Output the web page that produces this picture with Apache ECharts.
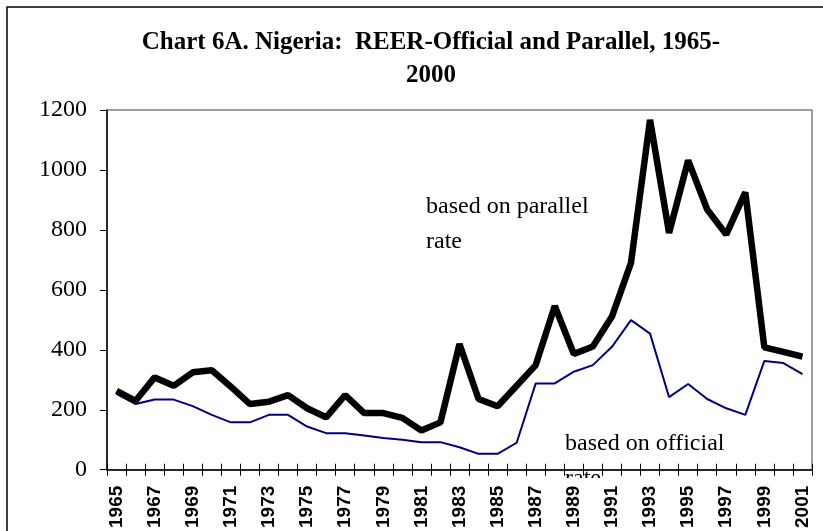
<!DOCTYPE html>
<html>
<head>
<meta charset="utf-8">
<script src="https://cdn.jsdelivr.net/npm/echarts@6/dist/echarts.min.js"></script>
<style>
  html, body { margin: 0; padding: 0; background: #fff; }
  #main { width: 823px; height: 531px; }
</style>
</head>
<body>
<div id="main"></div>
<script>
// years on the x axis
var years = ['1965','1966','1967','1968','1969','1970','1971','1972','1973','1974',
  '1975','1976','1977','1978','1979','1980','1981','1982','1983','1984',
  '1985','1986','1987','1988','1989','1990','1991','1992','1993','1994',
  '1995','1996','1997','1998','1999','2000','2001'];

// REER based on parallel rate (thick black)
var parallel = [263,230,308,280,325,332,277,219,227,249,205,175,249,189,189,173,131,158,419,236,
  212,280,349,546,386,411,511,690,1167,790,1032,868,785,925,408,393,377];

// REER based on official rate (thin navy)
var official = [253,219,234,234,212,183,158,158,183,183,144,122,122,114,106,100,92,92,75,53,
  53,90,288,288,327,349,410,499,454,242,286,236,205,183,363,356,319];

var titleText = 'Chart 6A. Nigeria:  REER-Official and Parallel, 1965-\n2000';
var yTicks = { min: 0, max: 1200, step: 200 };

var serif = '"Liberation Serif", "Times New Roman", serif';
var chart = echarts.init(document.getElementById('main'), null, { renderer: 'canvas' });

var option = {
  backgroundColor: '#fff',
  animation: false,
  title: {
    text: titleText,
    left: 426,
    top: 21,
    textAlign: 'center',
    textStyle: {
      fontFamily: serif,
      fontWeight: 'bold',
      fontSize: 25,
      lineHeight: 33,
      color: '#000'
    }
  },
  grid: {
    left: 107, right: 11, top: 110, bottom: 60,
    show: true,
    borderColor: '#808080',
    borderWidth: 1.5
  },
  xAxis: [{
    type: 'category',
    data: years,
    boundaryGap: true,
    z: 5,
    axisLine: { lineStyle: { color: '#000', width: 1.5 } },
    axisTick: { show: true, length: 6, interval: 0, lineStyle: { color: '#000', width: 1 } },
    axisLabel: {
      interval: 1,
      rotate: 90,
      margin: 16,
      fontFamily: '"Liberation Sans Narrow", "Liberation Sans", Arial, sans-serif',
      fontWeight: 'bold',
      fontSize: 19,
      color: '#000'
    }
  }, {
    // second copy only for the inside half of the crossing ticks
    type: 'category',
    data: years,
    position: 'bottom',
    boundaryGap: true,
    z: 5,
    axisLine: { show: false },
    axisTick: { show: true, inside: true, length: 6, interval: 0, lineStyle: { color: '#000', width: 1 } },
    axisLabel: { show: false }
  }],
  yAxis: {
    type: 'value',
    min: yTicks.min,
    max: yTicks.max,
    interval: yTicks.step,
    z: 5,
    splitLine: { show: false },
    axisLine: { show: true, lineStyle: { color: '#000', width: 1.5 } },
    axisTick: { show: true, length: 7, lineStyle: { color: '#000', width: 1 } },
    axisLabel: {
      margin: 20,
      fontFamily: serif,
      fontSize: 24,
      color: '#000',
      formatter: function (v) { return String(v); }
    }
  },
  series: [{
    name: 'based on official rate',
    type: 'line',
    data: official,
    symbol: 'none',
    z: 3,
    lineStyle: { color: '#000080', width: 2 }
  }, {
    name: 'based on parallel rate',
    type: 'line',
    data: parallel,
    symbol: 'none',
    z: 4,
    lineStyle: { color: '#000', width: 6.5 }
  }],
  graphic: [{
    // outer chart frame
    type: 'rect',
    shape: { x: 7, y: 7, width: 840, height: 560 },
    style: { fill: null, stroke: '#000', lineWidth: 1.5 },
    z: 0
  }, {
    type: 'text',
    left: 426, top: 189,
    z: 1,
    style: { text: 'based on parallel\nrate', font: '24px ' + serif, lineHeight: 35, fill: '#000' }
  }, {
    type: 'text',
    left: 565, top: 426,
    z: 1,
    style: { text: 'based on official\nrate', font: '24px ' + serif, lineHeight: 35, fill: '#000' }
  }, {
    // hides the lower half of the second "rate" like the original
    type: 'rect',
    shape: { x: 555, y: 478, width: 80, height: 40 },
    style: { fill: '#fff' },
    z: 2
  }]
};

chart.setOption(option);
</script>
</body>
</html>
